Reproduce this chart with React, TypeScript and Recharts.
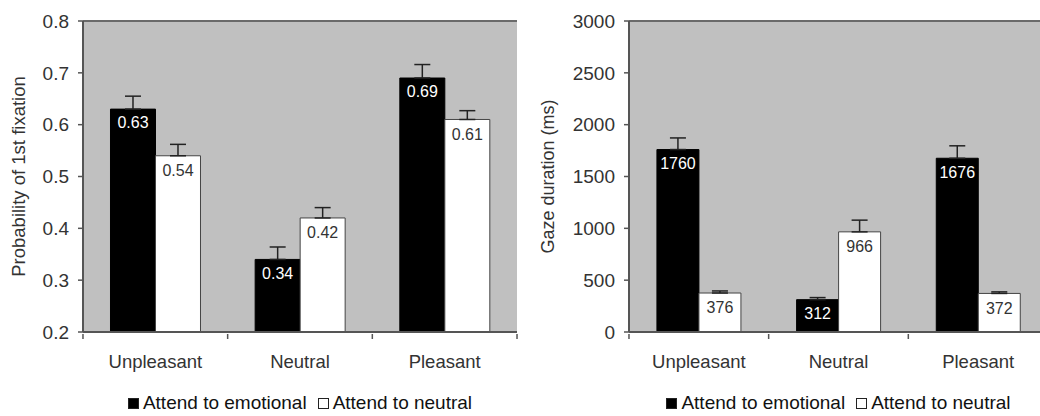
import { BarChart, Bar, XAxis, YAxis, CartesianGrid, ErrorBar, LabelList, ReferenceLine } from 'recharts'

const categories = ['Unpleasant', 'Neutral', 'Pleasant']

// left panel: probability of first fixation
const fixEmotional = [0.63, 0.34, 0.69]
const fixNeutral = [0.54, 0.42, 0.61]
const fixEmotionalErr = [0.025, 0.024, 0.026]
const fixNeutralErr = [0.022, 0.02, 0.017]
const fixTicks = [0.2, 0.3, 0.4, 0.5, 0.6, 0.7, 0.8]

// right panel: gaze duration
const gazeEmotional = [1760, 312, 1676]
const gazeNeutral = [376, 966, 372]
const gazeEmotionalErr = [112, 20, 120]
const gazeNeutralErr = [20, 113, 15]
const gazeTicks = [0, 500, 1000, 1500, 2000, 2500, 3000]

const legendNames = ['Attend to emotional', 'Attend to neutral']

const FONT = '"Liberation Sans", Arial, sans-serif'
const TEXT = '#333'
const AXIS = '#555'

const build = (emo: number[], neu: number[], emoErr: number[], neuErr: number[]) =>
  categories.map((name, i) => ({
    name,
    emotional: emo[i],
    neutral: neu[i],
    emoErr: [0, emoErr[i]],
    neuErr: [0, neuErr[i]],
  }))

const fixData = build(fixEmotional, fixNeutral, fixEmotionalErr, fixNeutralErr)
const gazeData = build(gazeEmotional, gazeNeutral, gazeEmotionalErr, gazeNeutralErr)

function XTick(props: any) {
  const { x, y, payload, index, bw } = props
  return (
    <g>
      <line x1={x - bw / 2} x2={x - bw / 2} y1={y} y2={y + 5} stroke={AXIS} strokeWidth={1.5} />
      {index === categories.length - 1 && (
        <line x1={x + bw / 2} x2={x + bw / 2} y1={y} y2={y + 5} stroke={AXIS} strokeWidth={1.5} />
      )}
      <text x={x} y={y + 34} textAnchor="middle" fill={TEXT} fontSize={18.5} fontFamily={FONT}>
        {payload.value}
      </text>
    </g>
  )
}

function Legend() {
  const box = (fill: string) => (
    <span
      style={{
        display: 'inline-block',
        width: 9,
        height: 9,
        background: fill,
        border: '1px solid #222',
        marginRight: 4,
      }}
    />
  )
  return (
    <div style={{ display: 'flex', alignItems: 'center', fontFamily: FONT, fontSize: 19, color: '#111', whiteSpace: 'nowrap' }}>
      {box('#000')}
      <span style={{ marginRight: 11 }}>{legendNames[0]}</span>
      {box('#fff')}
      <span>{legendNames[1]}</span>
    </div>
  )
}

interface PanelProps {
  data: any[]
  width: number
  yWidth: number
  right: number
  domain: [number, number]
  ticks: number[]
  fmt: (v: number) => string
  labelFmt: (v: number) => string
  yLabel: string
  yLabelSize: number
  labelX: number
  bw: number
  gap: string
}

function Panel({ data, width, yWidth, right, domain, ticks, fmt, labelFmt, yLabel, yLabelSize, labelX, bw, gap }: PanelProps) {
  return (
    <BarChart
      width={width}
      height={416}
      data={data}
      margin={{ top: 21, right, bottom: 54, left: 0 }}
      barCategoryGap={gap}
      barGap={0}
    >
      <CartesianGrid fill="#c0c0c0" horizontal={false} vertical={false} />
      <XAxis
        dataKey="name"
        height={30}
        tickSize={0}
        tickLine={false}
        axisLine={{ stroke: AXIS, strokeWidth: 2 }}
        interval={0}
        tick={(p: any) => <XTick {...p} bw={bw} />}
      />
      <YAxis
        width={yWidth}
        domain={domain}
        ticks={ticks}
        allowDataOverflow
        tickFormatter={fmt}
        tickSize={5}
        tickMargin={9}
        tickLine={{ stroke: AXIS, strokeWidth: 1.5 }}
        axisLine={{ stroke: AXIS, strokeWidth: 2 }}
        tick={{ fill: TEXT, fontSize: 19, fontFamily: FONT }}
        label={({ viewBox }: any) => (
          <text
            x={labelX}
            y={viewBox.y + viewBox.height / 2}
            transform={`rotate(-90 ${labelX} ${viewBox.y + viewBox.height / 2})`}
            textAnchor="middle"
            dominantBaseline="central"
            fill={TEXT}
            fontSize={yLabelSize}
            fontFamily={FONT}
          >
            {yLabel}
          </text>
        )}
      />
      <ReferenceLine y={domain[1]} stroke="#6a6a6a" strokeWidth={2} />
      <Bar dataKey="emotional" fill="#000" stroke="#000" isAnimationActive={false}>
        <ErrorBar dataKey="emoErr" direction="y" width={8} stroke="#222" strokeWidth={1.5} />
        <LabelList dataKey="emotional" position="insideTop" offset={8} fill="#fff" fontSize={16} fontFamily={FONT} formatter={(v: any) => labelFmt(v)} />
      </Bar>
      <Bar dataKey="neutral" fill="#fff" stroke="#444" strokeWidth={1} isAnimationActive={false}>
        <ErrorBar dataKey="neuErr" direction="y" width={8} stroke="#222" strokeWidth={1.5} />
        <LabelList dataKey="neutral" position="insideTop" offset={9} fill="#333" fontSize={16} fontFamily={FONT} formatter={(v: any) => labelFmt(v)} />
      </Bar>
    </BarChart>
  )
}

export default function App() {
  return (
    <div style={{ position: 'absolute', left: 0, top: 0, width: 1040, height: 416, overflow: 'hidden', background: '#fff' }}>
      <div style={{ position: 'absolute', left: 0, top: 0 }}>
        <Panel
          data={fixData}
          width={520}
          yWidth={83}
          right={3}
          domain={[0.2, 0.8]}
          ticks={fixTicks}
          fmt={(v) => Number(v).toFixed(1)}
          labelFmt={(v) => Number(v).toFixed(2)}
          yLabel="Probability of 1st fixation"
          yLabelSize={18.5}
          labelX={18}
          bw={144.7}
          gap="19%"
        />
      </div>
      <div style={{ position: 'absolute', left: 520, top: 0 }}>
        <Panel
          data={gazeData}
          width={540}
          yWidth={109}
          right={12}
          domain={[0, 3000]}
          ticks={gazeTicks}
          fmt={(v) => String(v)}
          labelFmt={(v) => String(v)}
          yLabel="Gaze duration (ms)"
          yLabelSize={18}
          labelX={28}
          bw={139.7}
          gap="20%"
        />
      </div>
      <div style={{ position: 'absolute', left: 0, width: 600, top: 392, display: 'flex', justifyContent: 'center' }}>
        <Legend />
      </div>
      <div style={{ position: 'absolute', left: 629, width: 419, top: 392, display: 'flex', justifyContent: 'center' }}>
        <Legend />
      </div>
    </div>
  )
}
